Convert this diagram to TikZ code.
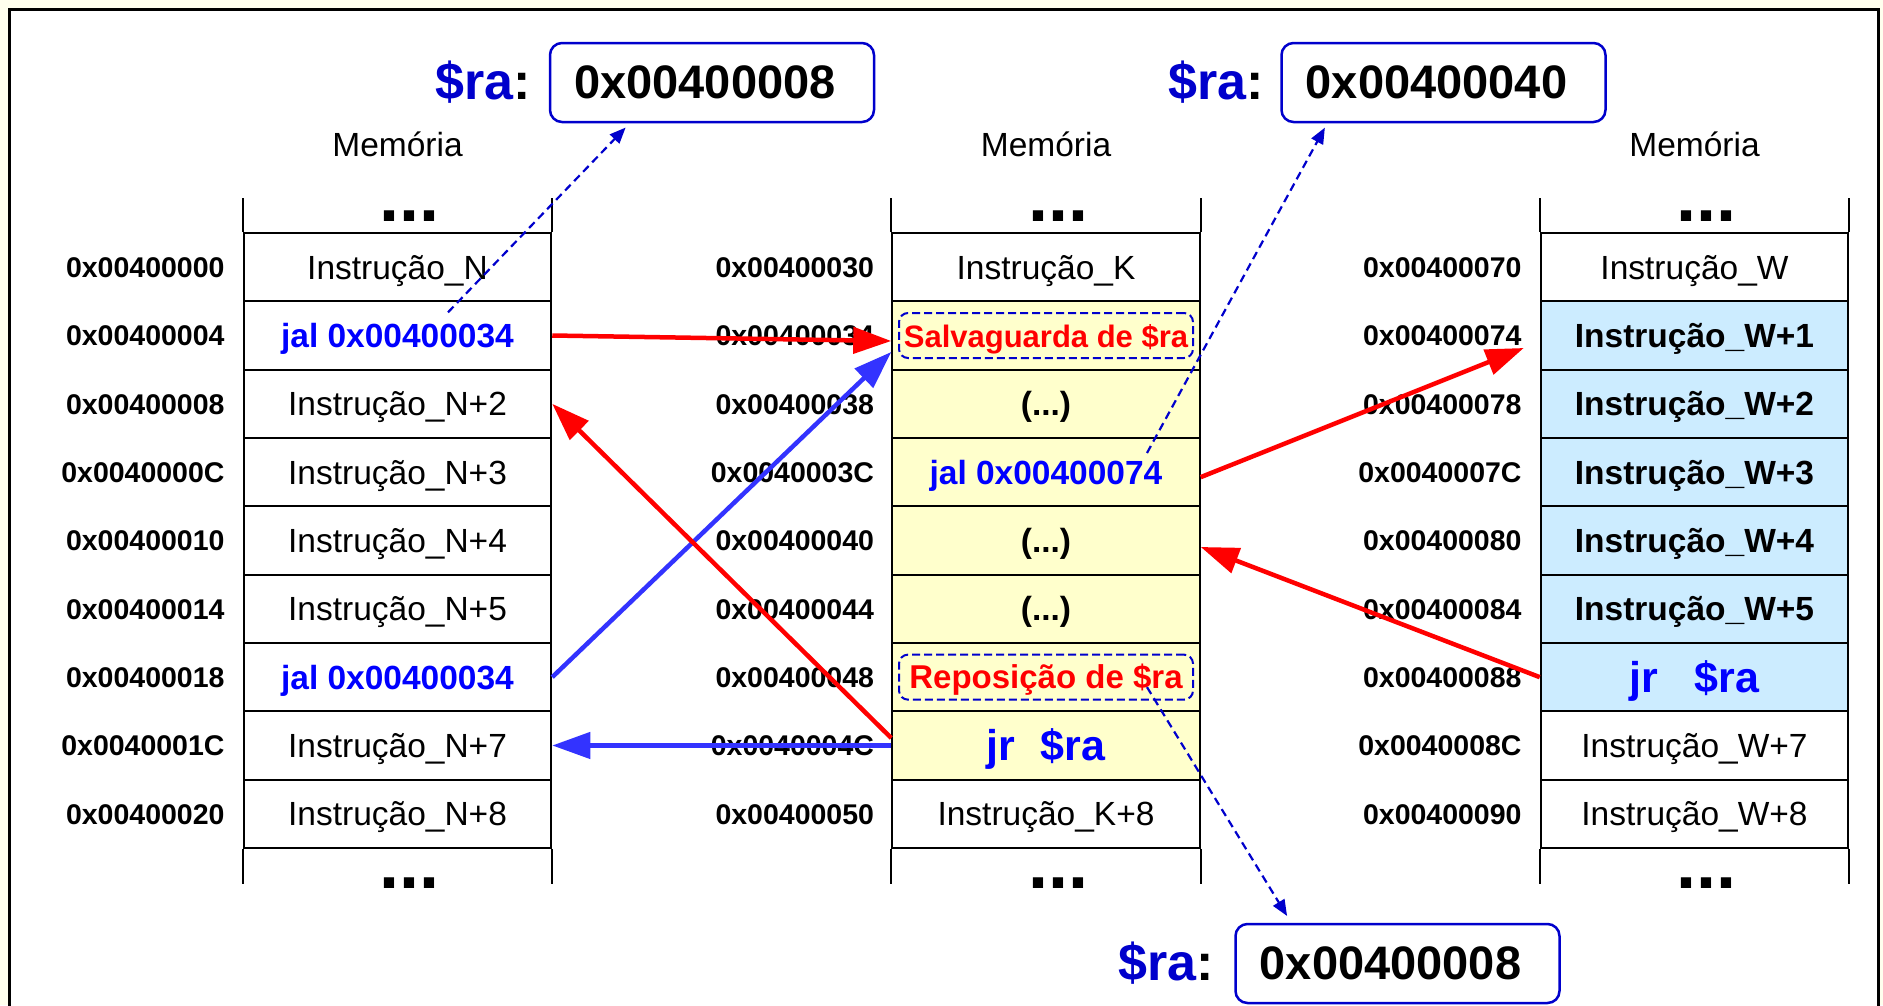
\documentclass[tikz,border=0pt]{standalone}
\usepackage{fontspec}
\setmainfont{Liberation Sans}
\usetikzlibrary{positioning,arrows.meta}

\definecolor{raBlue}{RGB}{0,0,204}
\definecolor{txtBlue}{RGB}{0,0,255}
\definecolor{arrBlue}{RGB}{51,51,255}
\definecolor{cellYellow}{RGB}{255,255,204}
\definecolor{cellBlue}{RGB}{204,236,255}
\definecolor{paper}{RGB}{255,255,238}

\newcommand{\cellfont}{\fontsize{33.5}{40}\selectfont}
\newcommand{\jrfont}{\fontsize{43}{50}\selectfont\bfseries}
\newcommand{\elips}{(...)}

\tikzset{
  cell/.style={draw, line width=2pt, minimum width=307.5pt, minimum height=68.33pt,
    inner sep=0pt, text height=24pt, text depth=0pt, font=\cellfont},
  norm/.style={},
  strong/.style={font=\cellfont\bfseries},
  jalcell/.style={strong, text=txtBlue},
  jrcell/.style={font=\jrfont, text=txtBlue, text height=31pt},
  ylw/.style={fill=cellYellow},
  ystrong/.style={ylw, strong},
  yjal/.style={ylw, jalcell},
  yjr/.style={ylw, jrcell},
  bstrong/.style={fill=cellBlue, strong},
  bjr/.style={fill=cellBlue, jrcell},
  addr/.style={inner sep=0pt, text height=20.5pt, text depth=0pt,
    font=\fontsize{28.5}{34}\selectfont\bfseries},
  rail/.style={line width=2pt},
  dots/.style={inner sep=0pt, anchor=base, font=\fontsize{72}{80}\selectfont\bfseries},
  mem/.style={inner sep=0pt, text height=24pt, text depth=0pt, font=\cellfont},
  rabox/.style={draw=raBlue, line width=2.5pt, rounded corners=12pt, fill=white,
    minimum width=324pt, minimum height=79pt, inner sep=0pt,
    execute at end node=\hspace*{14pt},
    font=\fontsize{47}{56}\selectfont\bfseries},
  ralabel/.style={inner sep=0pt, text=raBlue, font=\fontsize{52}{60}\selectfont\bfseries},
  savebox/.style={draw=raBlue, line width=2pt, dash pattern=on 8pt off 4pt,
    rounded corners=9pt, minimum width=294pt, minimum height=45pt, inner sep=0pt,
    text=red, text height=23pt, text depth=0pt},
  jump/.style={line width=4.5pt, -{Triangle[length=38pt,width=26pt]}},
  link/.style={raBlue, line width=2.2pt, dash pattern=on 8pt off 5pt,
    -{Triangle[length=16pt,width=13pt]}}
}

\begin{document}
\begin{tikzpicture}[x=1pt, y=-1pt]
% page and frame
\useasboundingbox (0,0) rectangle (1883,1005);
\fill[paper] (0,0) rectangle (1883,1005);
\fill[white] (9,9) rectangle (1878,1010);
\draw[line width=3pt] (9,1010) -- (9,9) -- (1878,9) -- (1878,1010);

% Left memory column
\foreach \k/\sty/\txt in {1/norm/Instrução\_N, 2/jalcell/jal 0x00400034,
    3/norm/Instrução\_N+2, 4/norm/Instrução\_N+3, 5/norm/Instrução\_N+4,
    6/norm/Instrução\_N+5, 7/jalcell/jal 0x00400034, 8/norm/Instrução\_N+7,
    9/norm/Instrução\_N+8}
  \node[cell,\sty] (L\k) at (397.5, {233+(\k-0.5)*68.33}) {\txt};

% Middle memory column
\foreach \k/\sty/\txt in {1/norm/Instrução\_K, 2/ylw/{}, 3/ystrong/\elips,
    4/yjal/jal 0x00400074, 5/ystrong/\elips, 6/ystrong/\elips, 7/ylw/{},
    8/yjr/jr\hspace{25pt}\$ra, 9/norm/Instrução\_K+8}
  \node[cell,\sty] (M\k) at (1046, {233+(\k-0.5)*68.33}) {\txt};

% Right memory column
\foreach \k/\sty/\txt in {1/norm/Instrução\_W, 2/bstrong/Instrução\_W+1,
    3/bstrong/Instrução\_W+2, 4/bstrong/Instrução\_W+3, 5/bstrong/Instrução\_W+4,
    6/bstrong/Instrução\_W+5, 7/bjr/jr\hspace{36pt}\$ra, 8/norm/Instrução\_W+7,
    9/norm/Instrução\_W+8}
  \node[cell,\sty] (R\k) at (1694.5, {233+(\k-0.5)*68.33}) {\txt};

% Addresses
\foreach \k/\a/\b/\c in {1/00400000/00400030/00400070, 2/00400004/00400034/00400074,
    3/00400008/00400038/00400078, 4/0040000C/0040003C/0040007C,
    5/00400010/00400040/00400080, 6/00400014/00400044/00400084,
    7/00400018/00400048/00400088, 8/0040001C/0040004C/0040008C,
    9/00400020/00400050/00400090} {
  \node[addr, left=18pt of L\k] (aL\k) {0x\a};
  \node[addr, left=17pt of M\k] (aM\k) {0x\b};
  \node[addr, left=18pt of R\k] (aR\k) {0x\c};
}

% Open ends of the columns
\foreach \c in {L,M,R} {
  \draw[rail] (\c1.north west) -- ++(0,-34);
  \draw[rail] (\c1.north east) -- ++(0,-34);
  \draw[rail] (\c9.south west) -- ++(0,35);
  \draw[rail] (\c9.south east) -- ++(0,35);
  \node[dots] (top\c) at ([xshift=12pt,yshift=11pt]\c1.north) {...};
  \node[dots] (bot\c) at ([xshift=12pt,yshift=-40pt]\c9.south) {...};
  \node[mem] (mem\c) at ([yshift=88pt]\c1.north) {Memória};
}

% Save / restore of $ra
\node[savebox, font=\fontsize{31}{36}\selectfont\bfseries] (salva) at (M2) {Salvaguarda de \$ra};
\node[savebox, font=\fontsize{33}{38}\selectfont\bfseries] (repo) at (M7) {Reposição de \$ra};

% Register $ra
\node[rabox] (ra1) at (712,82.5) {0x00400008};
\node[rabox] (ra2) at (1443.5,82.5) {0x00400040};
\node[rabox] (ra3) at (1397.5,963.5) {0x00400008};
\node[ralabel, left=18pt of ra1] (lab1) {\$ra\textcolor{black}{:}};
\node[ralabel, left=16pt of ra2] (lab2) {\$ra\textcolor{black}{:}};
\node[ralabel, left=20pt of ra3] (lab3) {\$ra\textcolor{black}{:}};

% Calls and returns
\draw[jump, red] (L2.east) -- ([yshift=-5.5pt]M2.west);
\draw[jump, arrBlue] (L7.east) -- ([yshift=-16.5pt]M2.west);
\draw[jump, red] ([yshift=7.5pt]M8.west) -- (L3.east);
\draw[jump, arrBlue] (M8.west) -- (L8.east);
\draw[jump, red] ([yshift=-5pt]M4.east) -- ([xshift=-16pt,yshift=-12.5pt]R2.west);
\draw[jump, red] (R7.west) -- ([yshift=-6.5pt]M5.east);

% Values written to $ra
\draw[link, shorten >=6pt] ([xshift=50.5pt,yshift=-12pt]L2.north) -- ([xshift=81pt]ra1.south west);
\draw[link, shorten >=5pt] ([xshift=101pt,yshift=-16pt]M4.north) -- ([xshift=47pt]ra2.south west);
\draw[link, shorten >=8pt] ([xshift=101pt,yshift=-10pt]repo.center) -- ([xshift=57pt]ra3.north west);
\end{tikzpicture}
\end{document}
